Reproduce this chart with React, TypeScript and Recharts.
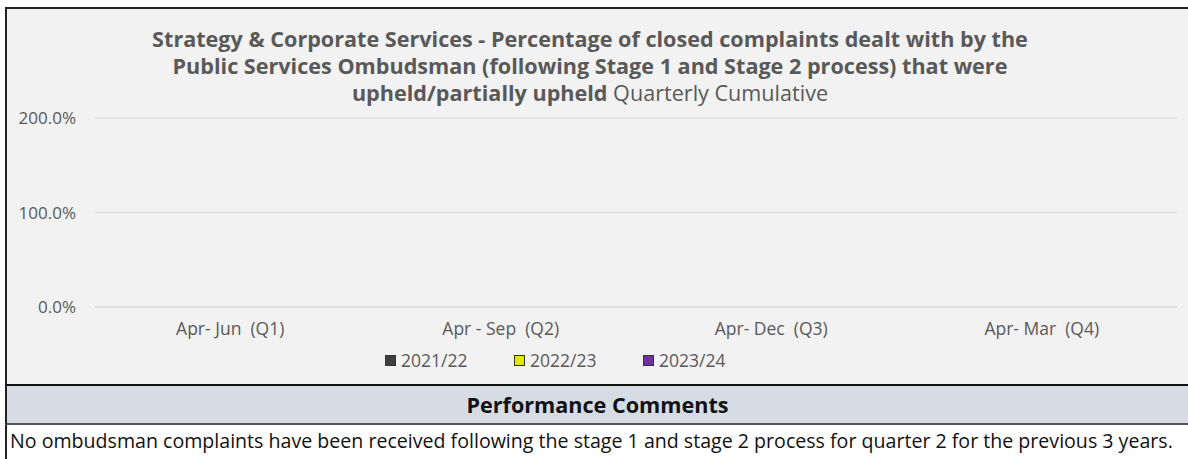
import React from "react";
import { BarChart, Bar, CartesianGrid, XAxis, YAxis } from "recharts";

const quarters = ["Apr- Jun\u00a0 (Q1)", "Apr - Sep\u00a0 (Q2)", "Apr- Dec\u00a0 (Q3)", "Apr- Mar\u00a0 (Q4)"];
const years = ["2021/22", "2022/23", "2023/24"];
const values2122 = [0, 0, 0, 0];
const values2223 = [0, 0, 0, 0];
const values2324 = [0, 0, 0, 0];
const yTicks = [0, 1, 2];
const colours = ["#404040", "#e6e600", "#7030a0"];

const data = quarters.map((q, i) => ({
  quarter: q,
  [years[0]]: values2122[i],
  [years[1]]: values2223[i],
  [years[2]]: values2324[i],
}));

const FONT = "'Open Sans', sans-serif";
const GREY = "#595959";

export default function App() {
  return (
    <div style={{ position: "absolute", left: 0, top: 0, width: 1188, height: 459, background: "#fff", fontFamily: FONT }}>
      <div
        style={{
          position: "absolute",
          left: 5,
          top: 7,
          width: 1183,
          height: 377,
          boxSizing: "border-box",
          borderTop: "2px solid #222",
          borderLeft: "2px solid #222",
          background: "#f2f2f2",
        }}
      >
        <div
          style={{
            position: "absolute",
            left: 0,
            top: 16,
            width: 1166,
            textAlign: "center",
            fontSize: 21.6,
            lineHeight: "27px",
            color: GREY,
            zIndex: 2,
            whiteSpace: "nowrap",
          }}
        >
          <div style={{ fontWeight: 700 }}>Strategy &amp; Corporate Services - Percentage of closed complaints dealt with by the</div>
          <div style={{ fontWeight: 700 }}>Public Services Ombudsman (following Stage 1 and Stage 2 process) that were</div>
          <div>
            <span style={{ fontWeight: 700 }}>upheld/partially upheld</span> Quarterly Cumulative
          </div>
        </div>
        <BarChart width={1181} height={375} data={data} margin={{ top: 109, right: 11, bottom: 47, left: 0 }}>
          <CartesianGrid vertical={false} stroke="#d9d9d9" />
          <XAxis
            dataKey="quarter"
            tickLine={false}
            axisLine={{ stroke: "#d9d9d9" }}
            tick={{ fill: GREY, fontSize: 17.5, fontFamily: FONT }}
            tickMargin={10}
            interval={0}
          />
          <YAxis
            width={88}
            domain={[0, 2]}
            ticks={yTicks}
            tickLine={false}
            axisLine={false}
            tick={{ fill: GREY, fontSize: 17, fontFamily: FONT }}
            tickMargin={13}
            tickFormatter={(v: number) => `${(v * 100).toFixed(1)}%`}
          />
          {years.map((y, i) => (
            <Bar key={y} dataKey={y} fill={colours[i]} isAnimationActive={false} />
          ))}
        </BarChart>
        <div
          style={{
            position: "absolute",
            left: 378,
            top: 339,
            display: "flex",
            alignItems: "center",
            fontSize: 17.5,
            color: GREY,
          }}
        >
          {years.map((y, i) => (
            <div key={y} style={{ display: "flex", alignItems: "center", width: 129 }}>
              <span
                style={{
                  display: "inline-block",
                  width: 9,
                  height: 9,
                  background: colours[i],
                  border: "1px solid #333",
                  marginRight: 5,
                }}
              />
              <span>{y}</span>
            </div>
          ))}
        </div>
      </div>
      <div
        style={{
          position: "absolute",
          left: 5,
          top: 384,
          width: 1183,
          height: 41,
          boxSizing: "border-box",
          borderTop: "2px solid #111",
          borderBottom: "2px solid #555",
          borderLeft: "2px solid #222",
          background: "#d6dce4",
          textAlign: "center",
          fontWeight: 700,
          fontSize: 21.6,
          lineHeight: "37px",
          color: "#111",
        }}
      >
        Performance Comments
      </div>
      <div
        style={{
          position: "absolute",
          left: 5,
          top: 425,
          width: 1183,
          height: 34,
          boxSizing: "border-box",
          borderLeft: "2px solid #222",
          paddingLeft: 3,
          fontSize: 19.6,
          lineHeight: "32px",
          color: "#111",
          whiteSpace: "nowrap",
        }}
      >
        No ombudsman complaints have been received following the stage 1 and stage 2 process for quarter 2 for the previous 3 years.
      </div>
    </div>
  );
}
